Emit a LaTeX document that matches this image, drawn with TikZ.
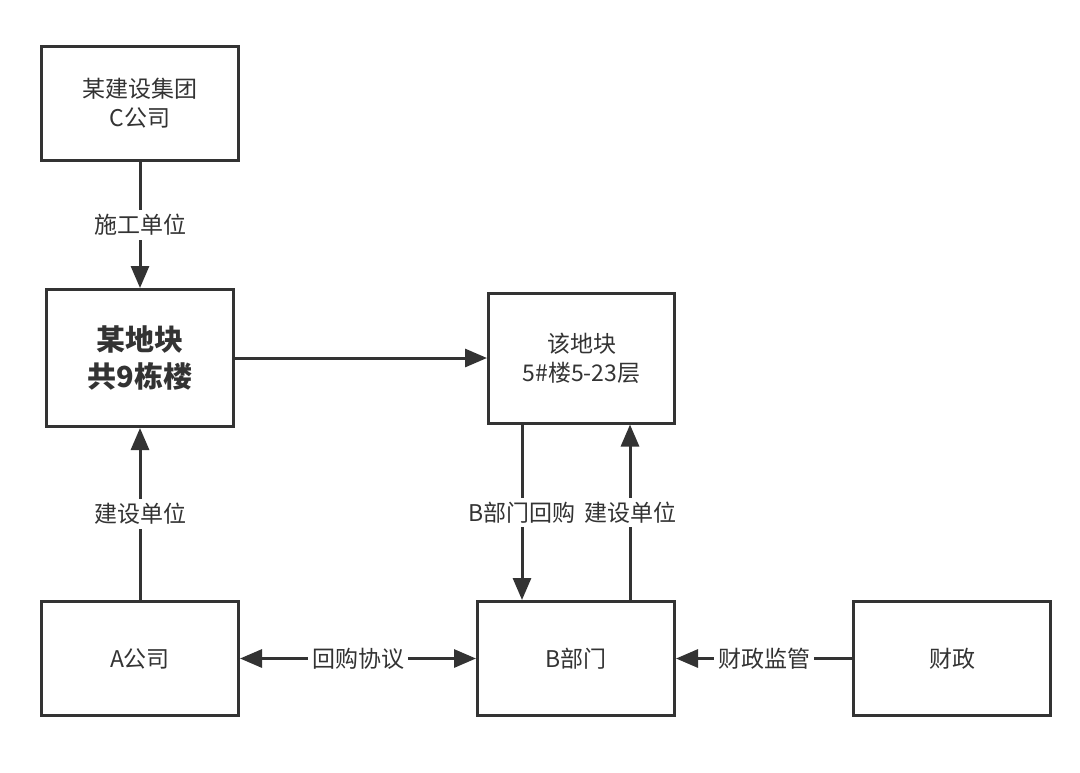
\documentclass[tikz,border=0pt]{standalone}
\usepackage{xcolor}
\usepackage{fontspec}
\newfontfamily\cjk{Noto Sans CJK SC}
\usetikzlibrary{positioning, arrows.meta}
\definecolor{linegray}{HTML}{333333}

\begin{document}
\begin{tikzpicture}[->, >={Triangle[length=11pt,width=9pt]}, line width=1.5pt, color=linegray,
  font=\cjk\fontsize{11.5}{14.5}\selectfont,
  box/.style={draw, rectangle, minimum width=98.5pt, minimum height=57pt, align=center},
  lbl/.style={fill=white, inner sep=2pt}]
\useasboundingbox (0,0) rectangle (540pt,-386pt);
% Nodos
\node[box] (c) at (70pt,-51.75pt) {某建设集团\\C公司};
\node[box, minimum width=93.5pt, minimum height=68.5pt, font=\cjk\bfseries\fontsize{14.5}{18.5}\selectfont, below=63pt of c] (m) {某地块\\共9栋楼};
\node[box, minimum width=93pt, minimum height=65pt, right=126pt of m] (g) {该地块\\5\#楼5-23层};
\node[box, below=86pt of m] (a) {A公司};
\node[box, right=118pt of a] (b) {B部门};
\node[box, right=88pt of b] (f) {财政};

% Relaciones
\draw (c) -- node[lbl] {施工单位} (m);
\draw (m) -- (g);
\draw (a) -- node[lbl] {建设单位} (m);
\draw ([xshift=-27pt]b.north |- g.south) -- node[lbl] {B部门回购} ([xshift=-27pt]b.north);
\draw ([xshift=27pt]b.north) -- node[lbl] {建设单位} ([xshift=27pt]b.north |- g.south);
\draw[<->] (a) -- node[lbl] {回购协议} (b);
\draw (f) -- node[lbl] {财政监管} (b);
\end{tikzpicture}
\end{document}
